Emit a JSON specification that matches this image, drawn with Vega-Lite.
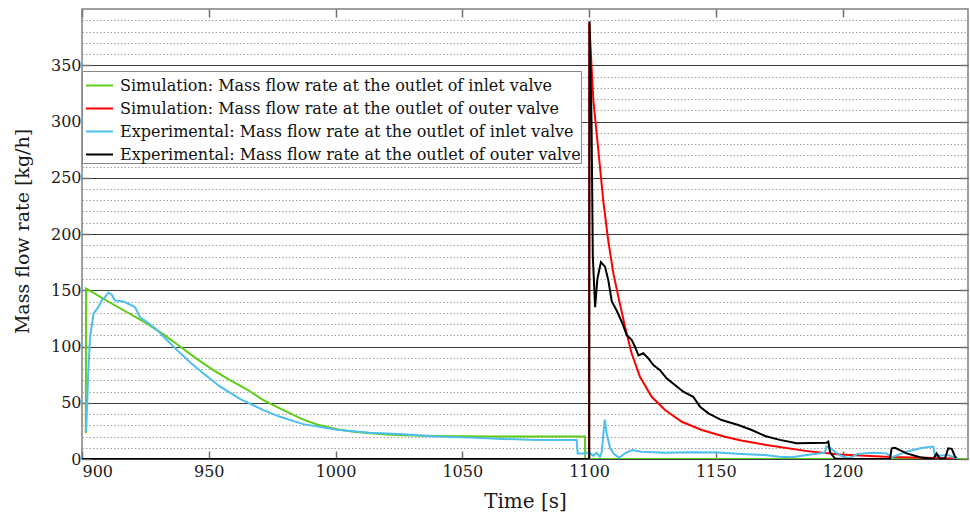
{
  "$schema": "https://vega.github.io/schema/vega-lite/v6.json",
  "width": 886,
  "height": 450,
  "autosize": {"type": "none"},
  "padding": {"left": 82, "top": 9, "right": 2, "bottom": 55},
  "background": "white",
  "config": {
    "view": {"stroke": "#808080", "strokeWidth": 1.5},
    "font": "DejaVu Serif",
    "axis": {
      "labelFont": "DejaVu Serif",
      "titleFont": "DejaVu Serif",
      "labelColor": "#1a1a1a",
      "titleColor": "#1a1a1a",
      "labelFontSize": 16,
      "titleFontSize": 19,
      "titleFontWeight": "normal",
      "domain": false,
      "tickColor": "#707070",
      "tickWidth": 1.5,
      "tickSize": -8
    },
    "legend": {
      "orient": "none",
      "legendX": 0,
      "legendY": 62,
      "strokeColor": "#888888",
      "fillColor": "white",
      "padding": 0,
      "cornerRadius": 0,
      "symbolType": "stroke",
      "symbolSize": 729,
      "symbolStrokeWidth": 2,
      "symbolOffset": 3,
      "labelFont": "DejaVu Serif",
      "labelFontSize": 16,
      "labelColor": "#111111",
      "labelLimit": 1000,
      "labelOffset": 6,
      "rowPadding": 0
    }
  },
  "data": {
    "values": [
      {"s": "Simulation: Mass flow rate at the outlet of inlet valve", "t": 901.5, "v": 23},
      {"s": "Simulation: Mass flow rate at the outlet of inlet valve", "t": 901.6, "v": 151.6},
      {"s": "Simulation: Mass flow rate at the outlet of inlet valve", "t": 908, "v": 143},
      {"s": "Simulation: Mass flow rate at the outlet of inlet valve", "t": 915, "v": 134},
      {"s": "Simulation: Mass flow rate at the outlet of inlet valve", "t": 925.5, "v": 120.5},
      {"s": "Simulation: Mass flow rate at the outlet of inlet valve", "t": 932, "v": 111},
      {"s": "Simulation: Mass flow rate at the outlet of inlet valve", "t": 938.7, "v": 100},
      {"s": "Simulation: Mass flow rate at the outlet of inlet valve", "t": 945, "v": 89.5},
      {"s": "Simulation: Mass flow rate at the outlet of inlet valve", "t": 951.8, "v": 79},
      {"s": "Simulation: Mass flow rate at the outlet of inlet valve", "t": 958, "v": 70.5},
      {"s": "Simulation: Mass flow rate at the outlet of inlet valve", "t": 965, "v": 62},
      {"s": "Simulation: Mass flow rate at the outlet of inlet valve", "t": 971, "v": 53},
      {"s": "Simulation: Mass flow rate at the outlet of inlet valve", "t": 978, "v": 45},
      {"s": "Simulation: Mass flow rate at the outlet of inlet valve", "t": 987.3, "v": 35},
      {"s": "Simulation: Mass flow rate at the outlet of inlet valve", "t": 993, "v": 30.5},
      {"s": "Simulation: Mass flow rate at the outlet of inlet valve", "t": 1000.5, "v": 26.5},
      {"s": "Simulation: Mass flow rate at the outlet of inlet valve", "t": 1007, "v": 24.2},
      {"s": "Simulation: Mass flow rate at the outlet of inlet valve", "t": 1013.6, "v": 22.8},
      {"s": "Simulation: Mass flow rate at the outlet of inlet valve", "t": 1020, "v": 21.8},
      {"s": "Simulation: Mass flow rate at the outlet of inlet valve", "t": 1026.7, "v": 21},
      {"s": "Simulation: Mass flow rate at the outlet of inlet valve", "t": 1039.9, "v": 20.5},
      {"s": "Simulation: Mass flow rate at the outlet of inlet valve", "t": 1060, "v": 20.1},
      {"s": "Simulation: Mass flow rate at the outlet of inlet valve", "t": 1098.4, "v": 20},
      {"s": "Simulation: Mass flow rate at the outlet of inlet valve", "t": 1098.5, "v": 0},
      {"s": "Simulation: Mass flow rate at the outlet of inlet valve", "t": 1249, "v": 0},

      {"s": "Simulation: Mass flow rate at the outlet of outer valve", "t": 900, "v": 0},
      {"s": "Simulation: Mass flow rate at the outlet of outer valve", "t": 1100, "v": 0},
      {"s": "Simulation: Mass flow rate at the outlet of outer valve", "t": 1100.1, "v": 388},
      {"s": "Simulation: Mass flow rate at the outlet of outer valve", "t": 1101.7, "v": 319},
      {"s": "Simulation: Mass flow rate at the outlet of outer valve", "t": 1103.7, "v": 274},
      {"s": "Simulation: Mass flow rate at the outlet of outer valve", "t": 1105.6, "v": 230},
      {"s": "Simulation: Mass flow rate at the outlet of outer valve", "t": 1107.6, "v": 194},
      {"s": "Simulation: Mass flow rate at the outlet of outer valve", "t": 1109.6, "v": 165},
      {"s": "Simulation: Mass flow rate at the outlet of outer valve", "t": 1111.6, "v": 144},
      {"s": "Simulation: Mass flow rate at the outlet of outer valve", "t": 1114.2, "v": 117.5},
      {"s": "Simulation: Mass flow rate at the outlet of outer valve", "t": 1116.8, "v": 94},
      {"s": "Simulation: Mass flow rate at the outlet of outer valve", "t": 1120.1, "v": 73},
      {"s": "Simulation: Mass flow rate at the outlet of outer valve", "t": 1124.7, "v": 55.3},
      {"s": "Simulation: Mass flow rate at the outlet of outer valve", "t": 1130, "v": 43.5},
      {"s": "Simulation: Mass flow rate at the outlet of outer valve", "t": 1136.6, "v": 33.1},
      {"s": "Simulation: Mass flow rate at the outlet of outer valve", "t": 1144.5, "v": 25.8},
      {"s": "Simulation: Mass flow rate at the outlet of outer valve", "t": 1153.6, "v": 19.8},
      {"s": "Simulation: Mass flow rate at the outlet of outer valve", "t": 1160, "v": 16.5},
      {"s": "Simulation: Mass flow rate at the outlet of outer valve", "t": 1170, "v": 12.5},
      {"s": "Simulation: Mass flow rate at the outlet of outer valve", "t": 1186, "v": 7},
      {"s": "Simulation: Mass flow rate at the outlet of outer valve", "t": 1199, "v": 4},
      {"s": "Simulation: Mass flow rate at the outlet of outer valve", "t": 1219, "v": 1.8},
      {"s": "Simulation: Mass flow rate at the outlet of outer valve", "t": 1245, "v": 0.5},

      {"s": "Experimental: Mass flow rate at the outlet of inlet valve", "t": 901.5, "v": 24},
      {"s": "Experimental: Mass flow rate at the outlet of inlet valve", "t": 901.7, "v": 29},
      {"s": "Experimental: Mass flow rate at the outlet of inlet valve", "t": 902.5, "v": 79},
      {"s": "Experimental: Mass flow rate at the outlet of inlet valve", "t": 903.2, "v": 108},
      {"s": "Experimental: Mass flow rate at the outlet of inlet valve", "t": 904.5, "v": 129},
      {"s": "Experimental: Mass flow rate at the outlet of inlet valve", "t": 906.4, "v": 135},
      {"s": "Experimental: Mass flow rate at the outlet of inlet valve", "t": 907.8, "v": 141},
      {"s": "Experimental: Mass flow rate at the outlet of inlet valve", "t": 909.1, "v": 144},
      {"s": "Experimental: Mass flow rate at the outlet of inlet valve", "t": 910.4, "v": 148},
      {"s": "Experimental: Mass flow rate at the outlet of inlet valve", "t": 911.7, "v": 146},
      {"s": "Experimental: Mass flow rate at the outlet of inlet valve", "t": 913, "v": 141},
      {"s": "Experimental: Mass flow rate at the outlet of inlet valve", "t": 916.3, "v": 140},
      {"s": "Experimental: Mass flow rate at the outlet of inlet valve", "t": 918.3, "v": 138},
      {"s": "Experimental: Mass flow rate at the outlet of inlet valve", "t": 920.9, "v": 135},
      {"s": "Experimental: Mass flow rate at the outlet of inlet valve", "t": 922.9, "v": 126},
      {"s": "Experimental: Mass flow rate at the outlet of inlet valve", "t": 925.5, "v": 122},
      {"s": "Experimental: Mass flow rate at the outlet of inlet valve", "t": 929.5, "v": 115},
      {"s": "Experimental: Mass flow rate at the outlet of inlet valve", "t": 933.4, "v": 106},
      {"s": "Experimental: Mass flow rate at the outlet of inlet valve", "t": 937.4, "v": 97},
      {"s": "Experimental: Mass flow rate at the outlet of inlet valve", "t": 942.6, "v": 86},
      {"s": "Experimental: Mass flow rate at the outlet of inlet valve", "t": 947.9, "v": 76},
      {"s": "Experimental: Mass flow rate at the outlet of inlet valve", "t": 954.4, "v": 64.5},
      {"s": "Experimental: Mass flow rate at the outlet of inlet valve", "t": 962.3, "v": 53.5},
      {"s": "Experimental: Mass flow rate at the outlet of inlet valve", "t": 971.5, "v": 43.5},
      {"s": "Experimental: Mass flow rate at the outlet of inlet valve", "t": 978.1, "v": 37.5},
      {"s": "Experimental: Mass flow rate at the outlet of inlet valve", "t": 987.3, "v": 31},
      {"s": "Experimental: Mass flow rate at the outlet of inlet valve", "t": 1000.5, "v": 26},
      {"s": "Experimental: Mass flow rate at the outlet of inlet valve", "t": 1013.6, "v": 23.4},
      {"s": "Experimental: Mass flow rate at the outlet of inlet valve", "t": 1026.7, "v": 21.9},
      {"s": "Experimental: Mass flow rate at the outlet of inlet valve", "t": 1039.9, "v": 20},
      {"s": "Experimental: Mass flow rate at the outlet of inlet valve", "t": 1053.1, "v": 19},
      {"s": "Experimental: Mass flow rate at the outlet of inlet valve", "t": 1066.2, "v": 17.8},
      {"s": "Experimental: Mass flow rate at the outlet of inlet valve", "t": 1079.4, "v": 17},
      {"s": "Experimental: Mass flow rate at the outlet of inlet valve", "t": 1095.1, "v": 17},
      {"s": "Experimental: Mass flow rate at the outlet of inlet valve", "t": 1095.5, "v": 5},
      {"s": "Experimental: Mass flow rate at the outlet of inlet valve", "t": 1098.4, "v": 5},
      {"s": "Experimental: Mass flow rate at the outlet of inlet valve", "t": 1099.8, "v": 6},
      {"s": "Experimental: Mass flow rate at the outlet of inlet valve", "t": 1101.7, "v": 3},
      {"s": "Experimental: Mass flow rate at the outlet of inlet valve", "t": 1103, "v": 5.5},
      {"s": "Experimental: Mass flow rate at the outlet of inlet valve", "t": 1104.3, "v": 2},
      {"s": "Experimental: Mass flow rate at the outlet of inlet valve", "t": 1105, "v": 6},
      {"s": "Experimental: Mass flow rate at the outlet of inlet valve", "t": 1106.2, "v": 35},
      {"s": "Experimental: Mass flow rate at the outlet of inlet valve", "t": 1107, "v": 22},
      {"s": "Experimental: Mass flow rate at the outlet of inlet valve", "t": 1108.3, "v": 10},
      {"s": "Experimental: Mass flow rate at the outlet of inlet valve", "t": 1109.6, "v": 5},
      {"s": "Experimental: Mass flow rate at the outlet of inlet valve", "t": 1111.8, "v": 1},
      {"s": "Experimental: Mass flow rate at the outlet of inlet valve", "t": 1114.5, "v": 5.5},
      {"s": "Experimental: Mass flow rate at the outlet of inlet valve", "t": 1117, "v": 8},
      {"s": "Experimental: Mass flow rate at the outlet of inlet valve", "t": 1120.8, "v": 6.5},
      {"s": "Experimental: Mass flow rate at the outlet of inlet valve", "t": 1130, "v": 5.5},
      {"s": "Experimental: Mass flow rate at the outlet of inlet valve", "t": 1140, "v": 6},
      {"s": "Experimental: Mass flow rate at the outlet of inlet valve", "t": 1151, "v": 5.8},
      {"s": "Experimental: Mass flow rate at the outlet of inlet valve", "t": 1160, "v": 4.5},
      {"s": "Experimental: Mass flow rate at the outlet of inlet valve", "t": 1169.4, "v": 3.5},
      {"s": "Experimental: Mass flow rate at the outlet of inlet valve", "t": 1175, "v": 2},
      {"s": "Experimental: Mass flow rate at the outlet of inlet valve", "t": 1180, "v": 1.5},
      {"s": "Experimental: Mass flow rate at the outlet of inlet valve", "t": 1186, "v": 3.5},
      {"s": "Experimental: Mass flow rate at the outlet of inlet valve", "t": 1193, "v": 5.6},
      {"s": "Experimental: Mass flow rate at the outlet of inlet valve", "t": 1193.7, "v": 11},
      {"s": "Experimental: Mass flow rate at the outlet of inlet valve", "t": 1195, "v": 10},
      {"s": "Experimental: Mass flow rate at the outlet of inlet valve", "t": 1198.7, "v": 3.5},
      {"s": "Experimental: Mass flow rate at the outlet of inlet valve", "t": 1202.6, "v": 0.6},
      {"s": "Experimental: Mass flow rate at the outlet of inlet valve", "t": 1206, "v": 4.5},
      {"s": "Experimental: Mass flow rate at the outlet of inlet valve", "t": 1208.2, "v": 5},
      {"s": "Experimental: Mass flow rate at the outlet of inlet valve", "t": 1212.1, "v": 5.6},
      {"s": "Experimental: Mass flow rate at the outlet of inlet valve", "t": 1217.4, "v": 5},
      {"s": "Experimental: Mass flow rate at the outlet of inlet valve", "t": 1219.4, "v": 1.5},
      {"s": "Experimental: Mass flow rate at the outlet of inlet valve", "t": 1225.3, "v": 6.5},
      {"s": "Experimental: Mass flow rate at the outlet of inlet valve", "t": 1230.6, "v": 9.5},
      {"s": "Experimental: Mass flow rate at the outlet of inlet valve", "t": 1235.1, "v": 11},
      {"s": "Experimental: Mass flow rate at the outlet of inlet valve", "t": 1235.8, "v": 11},
      {"s": "Experimental: Mass flow rate at the outlet of inlet valve", "t": 1236.5, "v": 2.6},
      {"s": "Experimental: Mass flow rate at the outlet of inlet valve", "t": 1241.7, "v": 3.5},
      {"s": "Experimental: Mass flow rate at the outlet of inlet valve", "t": 1245.6, "v": 0},

      {"s": "Experimental: Mass flow rate at the outlet of outer valve", "t": 900, "v": 0},
      {"s": "Experimental: Mass flow rate at the outlet of outer valve", "t": 1100.1, "v": 0},
      {"s": "Experimental: Mass flow rate at the outlet of outer valve", "t": 1100.2, "v": 389},
      {"s": "Experimental: Mass flow rate at the outlet of outer valve", "t": 1101, "v": 300},
      {"s": "Experimental: Mass flow rate at the outlet of outer valve", "t": 1101.5, "v": 180},
      {"s": "Experimental: Mass flow rate at the outlet of outer valve", "t": 1102.4, "v": 135},
      {"s": "Experimental: Mass flow rate at the outlet of outer valve", "t": 1103.3, "v": 160},
      {"s": "Experimental: Mass flow rate at the outlet of outer valve", "t": 1104.7, "v": 175},
      {"s": "Experimental: Mass flow rate at the outlet of outer valve", "t": 1106.3, "v": 171},
      {"s": "Experimental: Mass flow rate at the outlet of outer valve", "t": 1107.6, "v": 159},
      {"s": "Experimental: Mass flow rate at the outlet of outer valve", "t": 1109, "v": 140},
      {"s": "Experimental: Mass flow rate at the outlet of outer valve", "t": 1110.9, "v": 132},
      {"s": "Experimental: Mass flow rate at the outlet of outer valve", "t": 1112.9, "v": 122},
      {"s": "Experimental: Mass flow rate at the outlet of outer valve", "t": 1114.9, "v": 110},
      {"s": "Experimental: Mass flow rate at the outlet of outer valve", "t": 1116.8, "v": 106},
      {"s": "Experimental: Mass flow rate at the outlet of outer valve", "t": 1118.1, "v": 100},
      {"s": "Experimental: Mass flow rate at the outlet of outer valve", "t": 1119.5, "v": 92},
      {"s": "Experimental: Mass flow rate at the outlet of outer valve", "t": 1121.4, "v": 94},
      {"s": "Experimental: Mass flow rate at the outlet of outer valve", "t": 1123.4, "v": 89.4},
      {"s": "Experimental: Mass flow rate at the outlet of outer valve", "t": 1125.4, "v": 83.5},
      {"s": "Experimental: Mass flow rate at the outlet of outer valve", "t": 1128, "v": 79},
      {"s": "Experimental: Mass flow rate at the outlet of outer valve", "t": 1130.6, "v": 71.7},
      {"s": "Experimental: Mass flow rate at the outlet of outer valve", "t": 1133.9, "v": 65.7},
      {"s": "Experimental: Mass flow rate at the outlet of outer valve", "t": 1137.2, "v": 59.8},
      {"s": "Experimental: Mass flow rate at the outlet of outer valve", "t": 1141.1, "v": 55.3},
      {"s": "Experimental: Mass flow rate at the outlet of outer valve", "t": 1143.8, "v": 46.5},
      {"s": "Experimental: Mass flow rate at the outlet of outer valve", "t": 1147.1, "v": 40.6},
      {"s": "Experimental: Mass flow rate at the outlet of outer valve", "t": 1152.3, "v": 34.6},
      {"s": "Experimental: Mass flow rate at the outlet of outer valve", "t": 1158.9, "v": 30.2},
      {"s": "Experimental: Mass flow rate at the outlet of outer valve", "t": 1164.2, "v": 25.8},
      {"s": "Experimental: Mass flow rate at the outlet of outer valve", "t": 1169.4, "v": 20.5},
      {"s": "Experimental: Mass flow rate at the outlet of outer valve", "t": 1175.3, "v": 17},
      {"s": "Experimental: Mass flow rate at the outlet of outer valve", "t": 1181.9, "v": 14},
      {"s": "Experimental: Mass flow rate at the outlet of outer valve", "t": 1193.7, "v": 14.5},
      {"s": "Experimental: Mass flow rate at the outlet of outer valve", "t": 1194.4, "v": 15.5},
      {"s": "Experimental: Mass flow rate at the outlet of outer valve", "t": 1195.1, "v": 6},
      {"s": "Experimental: Mass flow rate at the outlet of outer valve", "t": 1197, "v": 0.5},
      {"s": "Experimental: Mass flow rate at the outlet of outer valve", "t": 1200.3, "v": 0},
      {"s": "Experimental: Mass flow rate at the outlet of outer valve", "t": 1218.7, "v": 0},
      {"s": "Experimental: Mass flow rate at the outlet of outer valve", "t": 1219.4, "v": 9.5},
      {"s": "Experimental: Mass flow rate at the outlet of outer valve", "t": 1220.7, "v": 10},
      {"s": "Experimental: Mass flow rate at the outlet of outer valve", "t": 1225.3, "v": 5},
      {"s": "Experimental: Mass flow rate at the outlet of outer valve", "t": 1230.6, "v": 1.5},
      {"s": "Experimental: Mass flow rate at the outlet of outer valve", "t": 1235.8, "v": 0},
      {"s": "Experimental: Mass flow rate at the outlet of outer valve", "t": 1237.1, "v": 5},
      {"s": "Experimental: Mass flow rate at the outlet of outer valve", "t": 1238.5, "v": 0},
      {"s": "Experimental: Mass flow rate at the outlet of outer valve", "t": 1240.4, "v": 0.5},
      {"s": "Experimental: Mass flow rate at the outlet of outer valve", "t": 1241.7, "v": 9.5},
      {"s": "Experimental: Mass flow rate at the outlet of outer valve", "t": 1243.1, "v": 9},
      {"s": "Experimental: Mass flow rate at the outlet of outer valve", "t": 1244.4, "v": 2},
      {"s": "Experimental: Mass flow rate at the outlet of outer valve", "t": 1245, "v": 1}
    ]
  },
  "layer": [
    {
      "mark": {"type": "line", "strokeWidth": 2, "clip": true},
      "encoding": {
        "x": {
          "field": "t", "type": "quantitative",
          "scale": {"domain": [900, 1249.5], "nice": false, "zero": false},
          "axis": {
            "orient": "bottom",
            "values": [900, 950, 1000, 1050, 1100, 1150, 1200],
            "format": "d",
            "grid": false,
            "labelPadding": 12,
            "title": "Time [s]",
            "titleFontSize": 20,
            "titleY": 48,
            "titleBaseline": "alphabetic"
          }
        },
        "y": {
          "field": "v", "type": "quantitative",
          "scale": {"domain": [0, 400], "nice": false},
          "axis": {
            "orient": "left",
            "values": [0, 10, 20, 30, 40, 50, 60, 70, 80, 90, 100, 110, 120, 130, 140, 150, 160, 170, 180, 190, 200, 210, 220, 230, 240, 250, 260, 270, 280, 290, 300, 310, 320, 330, 340, 350, 360, 370, 380, 390],
            "format": "d",
            "labelExpr": "datum.value % 50 === 0 ? datum.label : ''",
            "labelPadding": 9,
            "grid": true,
            "gridColor": {"condition": {"test": "datum.value % 50 === 0", "value": "#3c3c3c"}, "value": "#a0a0a0"},
            "gridDash": {"condition": {"test": "datum.value % 50 === 0", "value": []}, "value": [1.5, 2]},
            "gridWidth": 1,
            "tickOpacity": {"condition": {"test": "datum.value % 50 === 0", "value": 1}, "value": 0},
            "title": "Mass flow rate [kg/h]",
            "titleAngle": -90,
            "titleX": -60,
            "titleY": 222,
            "titleAlign": "center",
            "titleBaseline": "middle"
          }
        },
        "color": {
          "field": "s", "type": "nominal",
          "scale": {
            "domain": [
              "Simulation: Mass flow rate at the outlet of inlet valve",
              "Simulation: Mass flow rate at the outlet of outer valve",
              "Experimental: Mass flow rate at the outlet of inlet valve",
              "Experimental: Mass flow rate at the outlet of outer valve"
            ],
            "range": ["#5fcc18", "#ff0000", "#4dbeee", "#000000"]
          },
          "legend": {"title": null}
        }
      }
    },
    {
      "mark": {"type": "line", "strokeOpacity": 0},
      "encoding": {
        "x": {
          "field": "t", "type": "quantitative",
          "axis": {"orient": "top", "values": [900, 950, 1000, 1050, 1100, 1150, 1200], "labels": false, "grid": false, "title": null}
        },
        "y": {
          "field": "v", "type": "quantitative",
          "axis": {"orient": "right", "values": [0, 50, 100, 150, 200, 250, 300, 350], "labels": false, "grid": false, "title": null}
        },
        "detail": {"field": "s"}
      }
    }
  ],
  "resolve": {"axis": {"x": "independent", "y": "independent"}}
}
